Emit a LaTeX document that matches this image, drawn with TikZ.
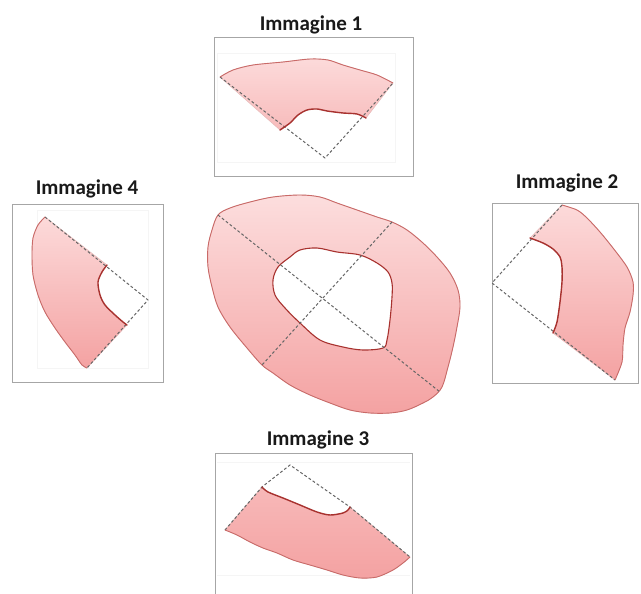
\documentclass[tikz,border=0pt]{standalone}
\usepackage{fontspec}
\setmainfont{Carlito}

\definecolor{pinkTop}{HTML}{FCDADA}
\definecolor{pinkBot}{HTML}{F4A2A2}
\definecolor{rimRed}{HTML}{C0504D}
\definecolor{holeRed}{HTML}{A8322F}
\definecolor{cutGray}{HTML}{666666}
\definecolor{frameGray}{HTML}{A6A6A6}

\tikzset{
  tissue/.style={top color=pinkTop, bottom color=pinkBot, draw=rimRed!40, line width=0.5pt},
  rim/.style={draw=rimRed!85, line width=0.9pt, line join=round},
  holeedge/.style={draw=holeRed, line width=1.4pt, line cap=round, line join=round},
  cutline/.style={draw=cutGray, line width=1pt, dash pattern=on 2.8pt off 2.2pt},
  panel/.style={draw=frameGray, line width=1pt},
  ghost/.style={draw=black!4, line width=0.6pt},
  caption/.style={font=\bfseries\fontsize{21}{25}\selectfont, text=black!90,
                  anchor=base, inner sep=0pt},
}

\begin{document}
\begin{tikzpicture}[x=1pt,y=-1pt]
\useasboundingbox[fill=white] (0,0) rectangle (641,594);

% ---------------- panel frames and captions ----------------
\draw[ghost] (217,53) rectangle (395,162);
\draw[ghost] (37,210) rectangle (148,368);
\draw[ghost] (217,462) -- (410,462) (217,575) -- (410,575);

\draw[panel] (214,38) rectangle (413,177);
\draw[panel] (12,204) rectangle (163,382);
\draw[panel] (492,203) rectangle (638,383);
\draw[panel] (215,594) -- (215,453) -- (412,453) -- (412,594);

\node[caption] (cap1) at (311,31)  {Immagine 1};
\node[caption] (cap2) at (567,189) {Immagine 2};
\node[caption] (cap3) at (318,445) {Immagine 3};
\node[caption] (cap4) at (87,194)  {Immagine 4};

% ---------------- whole section (centre) ----------------
\coordinate (cA1) at (218,215);
\coordinate (cA2) at (440,392);
\coordinate (cB1) at (392,222);
\coordinate (cB2) at (262,365);

\shade[tissue, top color=pinkTop!90!white, bottom color=pinkBot]
  plot[smooth cycle, tension=0.55] coordinates {
    (cA1) (230,208) (250,202) (273,197) (300,195) (320,197) (337,203)
    (357,210) (377,217) (cB1) (407,230) (423,243) (437,257) (450,273)
    (458,290) (460,307) (457,327) (453,347) (448,367) (442,387) (433,397)
    (423,403) (407,410) (390,413) (370,413) (350,410) (330,403) (310,395)
    (290,385) (273,373) (cB2) (247,348) (230,327) (218,307) (212,287)
    (208,267) (208,247) (212,230)};
\draw[rim]
  plot[smooth cycle, tension=0.55] coordinates {
    (cA1) (230,208) (250,202) (273,197) (300,195) (320,197) (337,203)
    (357,210) (377,217) (cB1) (407,230) (423,243) (437,257) (450,273)
    (458,290) (460,307) (457,327) (453,347) (448,367) (442,387) (433,397)
    (423,403) (407,410) (390,413) (370,413) (350,410) (330,403) (310,395)
    (290,385) (273,373) (cB2) (247,348) (230,327) (218,307) (212,287)
    (208,267) (208,247) (212,230)};
\filldraw[fill=white, draw=holeRed, line width=1.1pt, line join=round]
  plot[smooth cycle, tension=0.55] coordinates {
    (278,267) (290,257) (300,250) (317,248) (337,252) (360,255) (377,263)
    (388,272) (392,283) (392,297) (390,320) (387,340) (383,348) (363,350)
    (343,347) (320,340) (300,323) (285,308) (275,295) (273,280)};
\draw[cutline] (cA1) -- (cA2);
\draw[cutline] (cB1) -- (cB2);

% ---------------- piece 1 (top) ----------------
\coordinate (p1ol) at (220,77);
\coordinate (p1or) at (393,83);
\coordinate (p1ir) at (366,118);
\coordinate (p1il) at (280,130);
\coordinate (p1ap) at (325,158);

\shade[tissue, top color=pinkTop, bottom color=pinkBot!55!pinkTop]
  plot[smooth, tension=0.5] coordinates {(p1ol) (233,70) (253,65) (283,62)
    (310,59) (328,60) (343,65) (360,70) (377,75) (p1or)}
  -- plot[smooth, tension=0.5] coordinates {(p1ir) (357,114) (343,113)
    (327,111) (317,109) (307,110) (298,115) (290,123) (p1il)}
  -- cycle;
\draw[cutline] (p1ol) -- (p1ap) -- (p1or);
\draw[rim] plot[smooth, tension=0.5] coordinates {(p1ol) (233,70) (253,65)
    (283,62) (310,59) (328,60) (343,65) (360,70) (377,75) (p1or)};
\draw[holeedge] plot[smooth, tension=0.5] coordinates {(p1ir) (357,114)
    (343,113) (327,111) (317,109) (307,110) (298,115) (290,123) (p1il)};

% ---------------- piece 2 (right) ----------------
\coordinate (p2ot) at (562,205);
\coordinate (p2ob) at (615,380);
\coordinate (p2ib) at (553,333);
\coordinate (p2it) at (530,238);
\coordinate (p2ap) at (492,283);

\shade[tissue, top color=pinkTop, bottom color=pinkBot]
  plot[smooth, tension=0.5] coordinates {(p2ot) (577,210) (587,218) (600,232)
    (613,248) (627,267) (633,282) (633,295) (630,312) (625,328) (623,345)
    (622,362) (p2ob)}
  -- plot[smooth, tension=0.5] coordinates {(p2ib) (557,322) (560,302)
    (562,282) (562,267) (560,257) (553,249) (543,243) (p2it)}
  -- cycle;
\draw[cutline] (p2ot) -- (p2ap) -- (p2ob);
\draw[rim] plot[smooth, tension=0.5] coordinates {(p2ot) (577,210) (587,218)
    (600,232) (613,248) (627,267) (633,282) (633,295) (630,312) (625,328)
    (623,345) (622,362) (p2ob)};
\draw[holeedge] plot[smooth, tension=0.5] coordinates {(p2ib) (557,322)
    (560,302) (562,282) (562,267) (560,257) (553,249) (543,243) (p2it)};

% ---------------- piece 3 (bottom) ----------------
\coordinate (p3ap) at (290,465);
\coordinate (p3il) at (262,487);
\coordinate (p3ir) at (350,507);
\coordinate (p3ol) at (225,530);
\coordinate (p3ob) at (410,557);

\shade[tissue, top color=pinkBot!60!pinkTop, bottom color=pinkBot]
  plot[smooth, tension=0.5] coordinates {(p3ol) (237,535) (250,542) (263,548)
    (277,553) (293,560) (310,565) (327,570) (343,575) (360,578) (377,577)
    (393,570) (403,563) (p3ob)}
  -- plot[smooth, tension=0.5] coordinates {(p3ir) (348,510) (343,513)
    (330,515) (317,512) (300,505) (283,498) (268,492) (p3il)}
  -- cycle;
\draw[cutline] (p3ol) -- (p3il) -- (p3ap) -- (p3ir) -- (p3ob);
\draw[rim] plot[smooth, tension=0.5] coordinates {(p3ol) (237,535) (250,542)
    (263,548) (277,553) (293,560) (310,565) (327,570) (343,575) (360,578)
    (377,577) (393,570) (403,563) (p3ob)};
\draw[holeedge] plot[smooth, tension=0.5] coordinates {(p3ir) (348,510)
    (343,513) (330,515) (317,512) (300,505) (283,498) (268,492) (p3il)};

% ---------------- piece 4 (left) ----------------
\coordinate (p4ot) at (45,217);
\coordinate (p4ob) at (87,368);
\coordinate (p4ib) at (127,325);
\coordinate (p4it) at (107,265);
\coordinate (p4ap) at (148,300);

\shade[tissue, top color=pinkTop, bottom color=pinkBot]
  plot[smooth, tension=0.5] coordinates {(p4ot) (38,225) (33,238) (32,255)
    (33,275) (38,295) (45,312) (55,328) (65,342) (75,355) (82,365) (p4ob)}
  -- plot[smooth, tension=0.5] coordinates {(p4ib) (123,322) (115,315)
    (105,305) (100,295) (98,282) (102,272) (p4it)}
  -- cycle;
\draw[cutline] (p4ot) -- (p4ap) -- (p4ob);
\draw[rim] plot[smooth, tension=0.5] coordinates {(p4ot) (38,225) (33,238)
    (32,255) (33,275) (38,295) (45,312) (55,328) (65,342) (75,355) (82,365)
    (p4ob)};
\draw[holeedge] plot[smooth, tension=0.5] coordinates {(p4ib) (123,322)
    (115,315) (105,305) (100,295) (98,282) (102,272) (p4it)};

\end{tikzpicture}
\end{document}
